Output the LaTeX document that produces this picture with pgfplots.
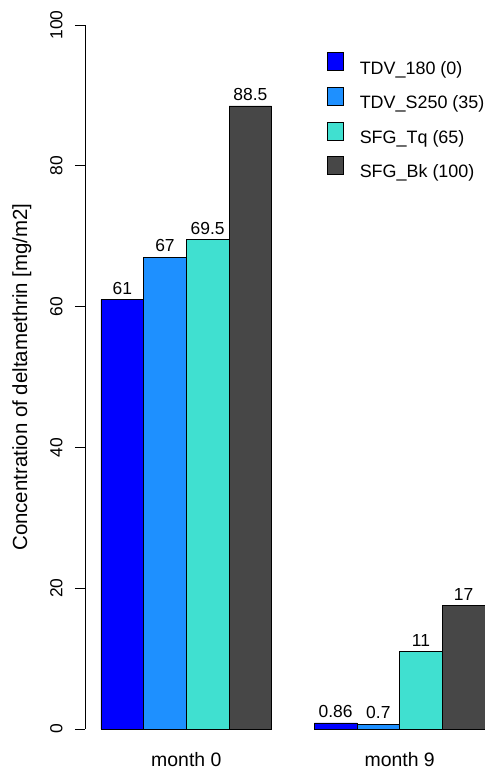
\documentclass[border=0pt]{standalone}
\usepackage{fontspec}
\setmainfont{Liberation Sans}
\usepackage{pgfplots}
\pgfplotsset{compat=1.18}
\definecolor{c1}{RGB}{0,0,255}
\definecolor{c2}{RGB}{30,144,255}
\definecolor{c3}{RGB}{64,224,208}
\definecolor{c4}{RGB}{71,71,71}
\begin{document}
\begin{tikzpicture}
\begin{axis}[
  at={(0,0)}, anchor=south west,
  scale only axis, width=400bp, height=704bp,
  xmin=0.625, xmax=10, ymin=0, ymax=100,
  clip=false,
  axis y line*=left, axis x line*=bottom,
  x axis line style={draw=none},
  y axis line style={line width=0.8bp, black},
  xtick={3,8}, xticklabels={month 0, month 9},
  x tick style={draw=none},
  ytick={0,20,40,60,80,100},
  tick align=outside,
  major tick length=10bp,
  y tick style={line width=0.8bp, black},
  /pgf/number format/assume math mode=true,
  yticklabel style={rotate=90, anchor=base, inner sep=0pt, font=\fontsize{17.5}{20}\selectfont},
  yticklabel shift=12.5bp,
  xticklabel style={anchor=base, inner sep=0pt, font=\fontsize{19.5}{22}\selectfont},
  xticklabel shift=27.5bp,
  ylabel={Concentration of deltamethrin [mg/m2]},
  every axis y label/.style={at={(axis description cs:-0.158,0.5)}, rotate=90, anchor=center, font=\fontsize{20.5}{23}\selectfont},
  every node near coord/.append style={anchor=base, yshift=5.5bp, font=\fontsize{17.5}{20}\selectfont, black},
  legend image code/.code={\draw[#1, draw=black, line width=0.8bp] (0bp,-2.6bp) rectangle (16bp,15.4bp);},
  legend style={draw=none, fill=none, at={(axis cs:6.296,96.1)}, anchor=north west, inner sep=0pt, outer sep=0pt, row sep=11.6bp, column sep=16bp, font=\fontsize{18}{20}\selectfont, nodes={inner sep=0pt}},
  legend cell align=left,
]
\addplot[ybar, bar width=1, bar shift=0pt, fill=c1, draw=black, line width=0.6bp, nodes near coords, point meta=explicit symbolic] coordinates {(1.5,61) [61] (6.5,0.86) [0.86]};
\addlegendentry{TDV\_180 (0)}
\addplot[ybar, bar width=1, bar shift=0pt, fill=c2, draw=black, line width=0.6bp, nodes near coords, point meta=explicit symbolic] coordinates {(2.5,67) [67] (7.5,0.7) [0.7]};
\addlegendentry{TDV\_S250 (35)}
\addplot[ybar, bar width=1, bar shift=0pt, fill=c3, draw=black, line width=0.6bp, nodes near coords, point meta=explicit symbolic] coordinates {(3.5,69.5) [69.5] (8.5,11) [11]};
\addlegendentry{SFG\_Tq (65)}
\addplot[ybar, bar width=1, bar shift=0pt, fill=c4, draw=black, line width=0.6bp, nodes near coords, point meta=explicit symbolic] coordinates {(4.5,88.5) [88.5] (9.5,17.5) [17]};
\addlegendentry{SFG\_Bk (100)}
\end{axis}
\pgfresetboundingbox
\path[use as bounding box] (-85bp,-42bp) rectangle (400bp,729bp);
\end{tikzpicture}
\end{document}
